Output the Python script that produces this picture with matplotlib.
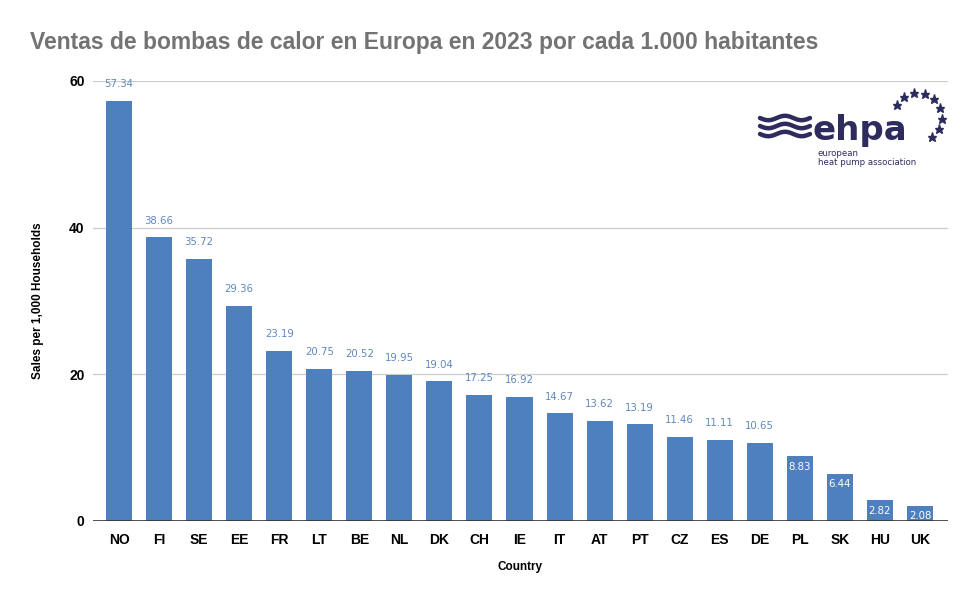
import matplotlib
matplotlib.use("Agg")
import matplotlib.pyplot as plt
import numpy as np

countries = ["NO", "FI", "SE", "EE", "FR", "LT", "BE", "NL", "DK", "CH", "IE",
             "IT", "AT", "PT", "CZ", "ES", "DE", "PL", "SK", "HU", "UK"]
values = [57.34, 38.66, 35.72, 29.36, 23.19, 20.75, 20.52, 19.95, 19.04, 17.25,
          16.92, 14.67, 13.62, 13.19, 11.46, 11.11, 10.65, 8.83, 6.44, 2.82, 2.08]
yticks = [0, 20, 40, 60]

W, H = 977, 604
fig = plt.figure(figsize=(W / 100, H / 100), dpi=100)
ax = fig.add_axes([93 / W, 1 - 521 / H, (948 - 93) / W, (521 - 81) / H])

bar_color = "#4e7fbf"
label_color = "#5f88bf"
x = np.arange(len(countries))
bars = ax.bar(x, values, width=0.65, color=bar_color, zorder=3)

ax.set_xlim(-0.65, len(countries) - 1 + 0.7)
ax.set_ylim(0, 60)
ax.set_yticks(yticks)
ax.set_xticks(x)
ax.set_xticklabels(countries, fontsize=10, fontweight="bold", family="Liberation Sans")
ax.set_yticklabels([str(t) for t in yticks], fontsize=10, fontweight="bold", family="Liberation Sans")
ax.tick_params(axis="x", length=0, pad=9)
ax.tick_params(axis="y", length=0, pad=6)
for s in ax.spines.values():
    s.set_visible(False)
ax.grid(axis="y", color="#cccccc", linewidth=0.9, zorder=0)
ax.axhline(0, color="#333333", linewidth=1.2, zorder=4)

for xi, v in zip(x, values):
    txt = f"{v:.2f}"
    if v < 10:
        ax.annotate(txt, (xi, v), xytext=(0, -7.5), textcoords="offset points",
                    ha="center", va="center", fontsize=7.3, color="white", zorder=5)
    else:
        ax.annotate(txt, (xi, v), xytext=(0, 12), textcoords="offset points",
                    ha="center", va="center", fontsize=7.3, color=label_color,
                    zorder=5, annotation_clip=False)

ax.set_ylabel("Sales per 1,000 Households", fontsize=8.5, fontweight="bold", labelpad=18,
              family="Liberation Sans")
ax.set_xlabel("Country", fontsize=8.5, fontweight="bold", labelpad=10, family="Liberation Sans")

fig.text(30 / W, 1 - 42 / H, "Ventas de bombas de calor en Europa en 2023 por cada 1.000 habitantes",
         fontsize=16.5, fontweight="bold", color="#737373", va="center", ha="left",
         family="Liberation Sans")

# Logo
navy = "#2e2c5e"
def px(xp, yp):
    return xp / W, 1 - yp / H

t = np.linspace(0, 1, 100)
for yy in [118, 126, 134]:
    xs = 760 + 50 * t
    ys = yy + 2.2 * np.sin(2 * np.pi * 1.5 * t)
    fig.add_artist(plt.Line2D(xs / W, 1 - ys / H, color=navy, linewidth=3.2,
                              solid_capstyle="round", transform=fig.transFigure))
fig.text(*px(812, 140), "ehpa", fontsize=24.5, fontweight="bold", color=navy,
         ha="left", va="baseline", family="DejaVu Sans")
fig.text(*px(818, 153.5), "european", fontsize=6.2, color=navy, ha="left", va="center",
         family="DejaVu Sans")
fig.text(*px(818, 162.5), "heat pump association", fontsize=6.2, color=navy, ha="left",
         va="center", family="DejaVu Sans")
cx, cy, r = 918, 117, 24
for ang in np.linspace(150, -55, 9):
    a = np.deg2rad(ang)
    sx = cx + r * np.cos(a)
    sy = cy - r * np.sin(a)
    fig.add_artist(plt.Line2D([sx / W], [1 - sy / H], marker="*", markersize=6.5,
                              color=navy, linestyle="none", transform=fig.transFigure))

fig.savefig("out.png", dpi=100, facecolor="white")
